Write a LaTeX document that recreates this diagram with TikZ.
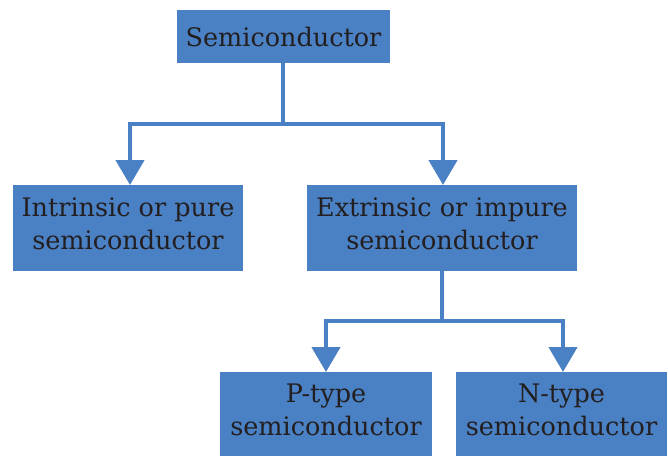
\documentclass[tikz,border=0pt]{standalone}
\usepackage{fontspec}
\setmainfont{DejaVu Serif}
\usetikzlibrary{arrows.meta}
\definecolor{boxblue}{HTML}{4A80C4}
\definecolor{txt}{HTML}{231F20}
\begin{document}
\begin{tikzpicture}[x=1pt,y=-1pt,
  blk/.style={fill=boxblue,draw=none},
  lbl/.style={text=txt,align=center,font=\fontsize{25.5}{32.5}\selectfont,inner sep=0pt},
  conn/.style={draw=boxblue,line width=4.5pt},
  arr/.style={conn,-{Triangle[width=28pt,length=25pt]}}]
\useasboundingbox (0,0) rectangle (668,455);
\fill[white] (0,0) rectangle (668,455);
% boxes
\path[blk] (177,10) rectangle (390,63);
\path[blk] (13,185) rectangle (243,271);
\path[blk] (307,185) rectangle (577,271);
\path[blk] (220,372) rectangle (432,460);
\path[blk] (456,372) rectangle (667,460);
\node[lbl] (semi) at (283.5,37) {Semiconductor};
\node[lbl] (intr) at (128,224) {Intrinsic or pure\\semiconductor};
\node[lbl] (extr) at (442,224) {Extrinsic or impure\\semiconductor};
\node[lbl] (ptype) at (326,410) {P-type\\semiconductor};
\node[lbl] (ntype) at (561.5,410) {N-type\\semiconductor};
% named anchor points
\coordinate (s0) at (283,63);
\coordinate (s1) at (283,124);
\coordinate (a0) at (130,124);
\coordinate (a1) at (130,185);
\coordinate (b0) at (443,124);
\coordinate (b1) at (443,185);
\coordinate (e0) at (442,271);
\coordinate (e1) at (442,321);
\coordinate (c0) at (326,321);
\coordinate (c1) at (326,372);
\coordinate (d0) at (563,321);
\coordinate (d1) at (563,372);
\draw[conn] (s0) -- (s1);
\draw[conn,line cap=rect] (a0) -- (b0);
\draw[arr] (a0) -- (a1);
\draw[arr] (b0) -- (b1);
\draw[conn] (e0) -- (e1);
\draw[conn,line cap=rect] (c0) -- (d0);
\draw[arr] (c0) -- (c1);
\draw[arr] (d0) -- (d1);
\end{tikzpicture}
\end{document}
